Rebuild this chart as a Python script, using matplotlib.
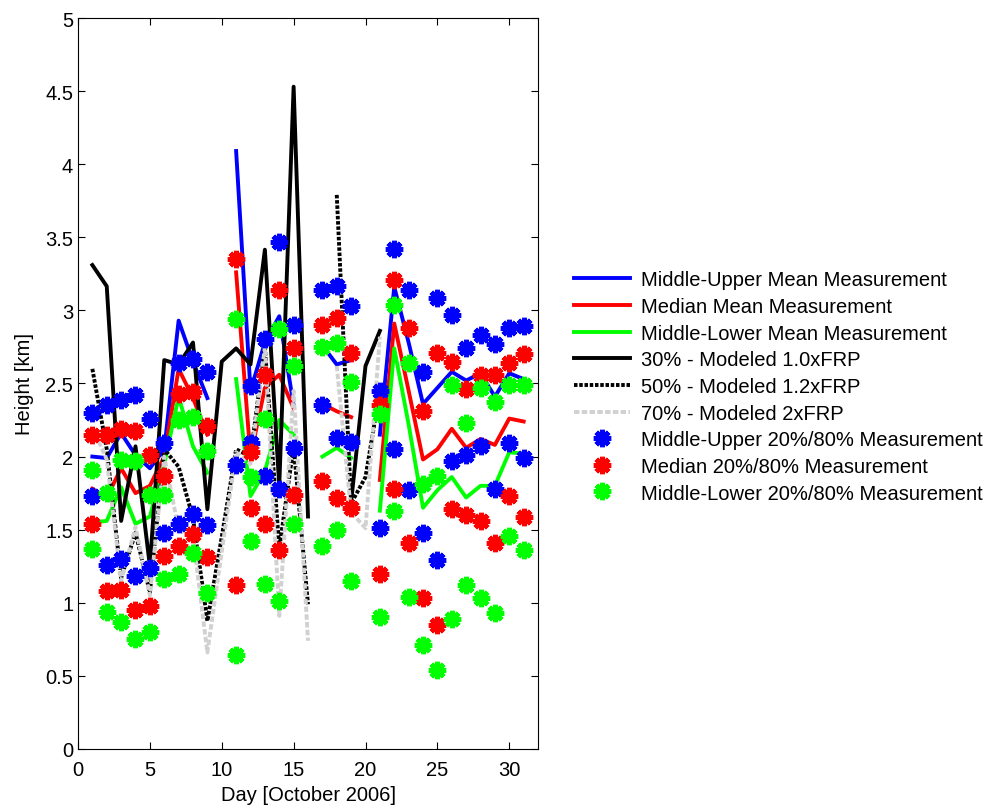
import matplotlib
matplotlib.use("Agg")
import matplotlib.pyplot as plt
import numpy as np

plt.rcParams['font.family'] = ['Liberation Sans', 'DejaVu Sans']

nan = np.nan
days = np.arange(1, 32)

# mean measurement lines
mu_mean = [2.00, 1.99, 2.16, 2.01, 1.92, 2.05, 2.93, 2.65, 2.40, nan, 4.09, 2.45, 2.78, 2.96, 2.35, nan,
           2.76, 2.63, 2.66, nan, 2.15, 3.16, 2.78, 2.36, 2.47, 2.58, 2.52, 2.57, 2.41, 2.57, 2.53]
md_mean = [1.78, 1.72, 1.92, 1.75, 1.80, 2.00, 2.60, 2.40, 2.15, nan, 3.26, 2.00, 2.47, 2.56, 2.33, nan,
           2.36, 2.31, 2.27, nan, 1.84, 2.91, 2.45, 1.98, 2.05, 2.19, 2.06, 2.12, 2.08, 2.26, 2.24]
ml_mean = [1.55, 1.56, 1.79, 1.54, 1.59, 1.95, 2.41, 2.07, 1.89, nan, 2.53, 1.73, 1.90, 2.25, 2.15, nan,
           2.00, 2.06, 1.99, nan, 1.63, 2.74, 2.22, 1.65, 1.77, 1.86, 1.72, 1.80, 1.80, 2.03, 2.02]

# modeled
mod30 = [3.31, 3.165, 1.56, 2.07, 1.25, 2.66, 2.63, 2.78, 1.64, 2.65, 2.74, 2.63, 3.415, 1.80, 4.53, 1.59,
         nan, nan, 1.69, 2.62, 2.86] + [nan] * 10
mod50 = [2.60, 2.05, 1.17, 1.48, 1.07, 2.05, 1.93, 1.58, 0.875, 1.45, 2.05, 2.00, 2.75, 1.37, 2.07, 0.99,
         nan, 3.79, 1.68, 1.86, 2.45] + [nan] * 10
mod70 = [2.20, 1.98, 1.15, 1.52, 1.05, 2.00, 1.50, 1.45, 0.66, 1.35, 2.03, 1.95, 2.75, 0.91, 2.45, 0.74,
         nan, 2.62, 1.62, 1.51, 2.82] + [nan] * 10

# 20% / 80% measurements
mu_hi = [2.30, 2.35, 2.39, 2.42, 2.26, 2.09, 2.64, 2.67, 2.58, nan, nan, 2.48, 2.805, 3.47, 2.90, nan,
         3.14, 3.165, 3.03, nan, 2.45, 3.42, 3.14, 2.58, 3.085, 2.97, 2.74, 2.83, 2.77, 2.88, 2.89]
mu_lo = [1.73, 1.26, 1.30, 1.18, 1.24, 1.48, 1.54, 1.61, 1.53, nan, 1.94, 2.09, 1.87, 1.78, 2.06, nan,
         2.35, 2.13, 2.10, nan, 1.51, 2.05, 1.77, 1.48, 1.29, 1.97, 2.01, 2.07, 1.78, 2.09, 1.99]
md_hi = [2.145, 2.145, 2.19, 2.175, 2.01, 1.87, 2.43, 2.44, 2.21, nan, 3.35, 2.03, 2.56, 3.14, 2.74, nan,
         2.90, 2.95, 2.71, nan, 2.35, 3.21, 2.88, 2.31, 2.71, 2.65, 2.46, 2.56, 2.56, 2.64, 2.70]
md_lo = [1.54, 1.08, 1.09, 0.95, 0.98, 1.32, 1.39, 1.47, 1.31, nan, 1.12, 1.65, 1.54, 1.36, 1.74, nan,
         1.83, 1.72, 1.65, nan, 1.20, 1.78, 1.41, 1.03, 0.85, 1.64, 1.60, 1.56, 1.41, 1.73, 1.59]
ml_hi = [1.91, 1.75, 1.98, 1.97, 1.74, 1.74, 2.25, 2.27, 2.04, nan, 2.94, 1.86, 2.26, 2.87, 2.62, nan,
         2.75, 2.78, 2.51, nan, 2.29, 3.04, 2.64, 1.81, 1.87, 2.49, 2.23, 2.47, 2.37, 2.49, 2.49]
ml_lo = [1.37, 0.94, 0.87, 0.75, 0.80, 1.16, 1.20, 1.34, 1.07, nan, 0.64, 1.42, 1.13, 1.01, 1.54, nan,
         1.39, 1.50, 1.15, nan, 0.90, 1.63, 1.04, 0.71, 0.54, 0.89, 1.12, 1.03, 0.93, 1.46, 1.36]

fig = plt.figure(figsize=(9.91, 8.12), dpi=100)
ax = fig.add_axes([0.0787, 0.0764, 0.4642, 0.9002])

lw = 2.8
ax.plot(days, mu_mean, color='b', lw=lw, label='Middle-Upper Mean Measurement')
ax.plot(days, md_mean, color='r', lw=lw, label='Median Mean Measurement')
ax.plot(days, ml_mean, color=(0, 1, 0), lw=lw, label='Middle-Lower Mean Measurement')
ax.plot(days, mod30, color='k', lw=lw, label='30% - Modeled 1.0xFRP')
ax.plot(days, mod50, color='k', lw=lw, dashes=(0.9, 0.45), label='50% - Modeled 1.2xFRP')
ax.plot(days, mod70, color=(0.82, 0.82, 0.82), lw=lw, dashes=(1.4, 0.6), label='70% - Modeled 2xFRP')

mk = dict(ls='none', marker=(8, 2, 0), ms=12.5, mew=3.6)
dd = np.r_[days, days]
ax.plot(dd, np.r_[mu_hi, mu_lo], color='b', label='Middle-Upper 20%/80% Measurement', **mk)
ax.plot(dd, np.r_[md_hi, md_lo], color='r', label='Median 20%/80% Measurement', **mk)
ax.plot(dd, np.r_[ml_hi, ml_lo], color=(0, 1, 0), label='Middle-Lower 20%/80% Measurement', **mk)

fs = 14.5
ax.set_xlim(0, 32)
ax.set_ylim(0, 5)
ax.set_xticks(np.arange(0, 31, 5))
ax.set_yticks(np.arange(0, 5.01, 0.5))
ax.set_yticklabels(['0', '0.5', '1', '1.5', '2', '2.5', '3', '3.5', '4', '4.5', '5'])
ax.tick_params(direction='in', top=True, right=True, labelsize=fs, length=5)
ax.tick_params(axis='x', pad=8)
ax.set_xlabel('Day [October 2006]', fontsize=fs, labelpad=4)
ax.set_ylabel('Height [km]', fontsize=fs, labelpad=8)

ax.legend(loc='center left', bbox_to_anchor=(1.06, 0.496), frameon=False, fontsize=fs,
          handlelength=2.8, handletextpad=0.55, labelspacing=0.38, borderaxespad=0)

fig.savefig('out.png', dpi=100)
